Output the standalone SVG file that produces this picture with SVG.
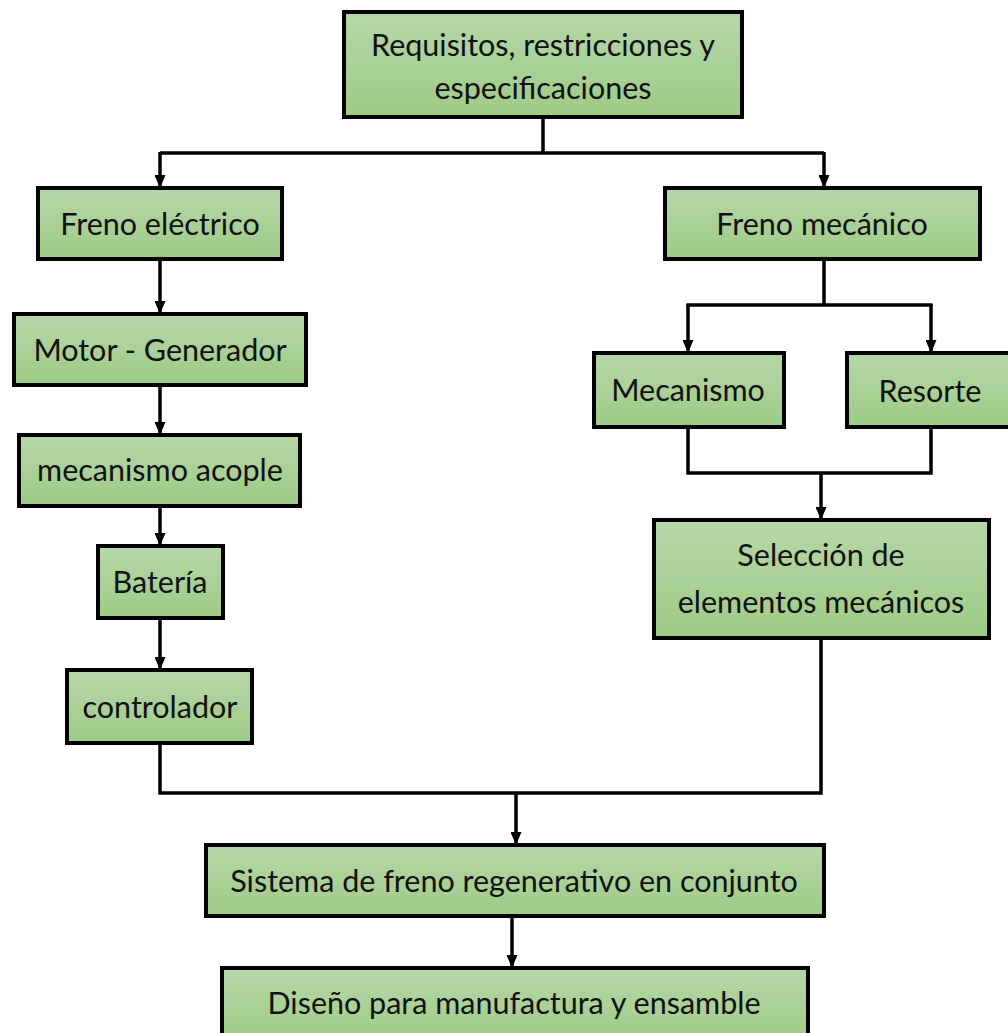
<svg xmlns="http://www.w3.org/2000/svg" width="1008" height="1033" viewBox="0 0 1008 1033">
<defs>
<linearGradient id="g" x1="0" y1="0" x2="0" y2="1">
<stop offset="0" stop-color="#b6d7a8"/>
<stop offset="1" stop-color="#9ecb86"/>
</linearGradient>
<marker id="arr" viewBox="0 0 13 11" refX="13" refY="5.5" markerWidth="13" markerHeight="11" markerUnits="userSpaceOnUse" orient="auto">
<path d="M0,0 L13,5.5 L0,11 z" fill="#000"/>
</marker>
</defs>
<style>
.box{fill:url(#g);stroke:#000;stroke-width:4}
.t{font-family:Lato,"Open Sans",sans-serif;font-size:30.5px;fill:#111;text-anchor:middle}
.c{fill:none;stroke:#000;stroke-width:3.5}
.a{marker-end:url(#arr)}
</style>
<rect width="1008" height="1033" fill="#fff"/>
<g id="connectors">
<path class="c" d="M543,117 V153 M160,153 H824"/>
<path class="c a" d="M160,152 V188"/>
<path class="c a" d="M824,152 V188"/>
<path class="c a" d="M160,259 V314"/>
<path class="c a" d="M160,385 V435"/>
<path class="c a" d="M160,506 V546"/>
<path class="c a" d="M160,618 V670"/>
<path class="c" d="M824,259 V305 M686.5,305 H932.5"/>
<path class="c a" d="M688,304 V353"/>
<path class="c a" d="M931,304 V353"/>
<path class="c" d="M688,427 V473 H931 V427"/>
<path class="c a" d="M821,473 V520"/>
<path class="c" d="M160,743 V793 H821 V638"/>
<path class="c a" d="M516,793 V845"/>
<path class="c a" d="M512,916 V968"/>
</g>
<g id="n-req"><rect class="box" x="344" y="12" width="398" height="105"/><text class="t" x="543" y="56">Requisitos, restricciones y</text><text class="t" x="543" y="99">especificaciones</text></g>
<g id="n-felec"><rect class="box" x="38" y="188" width="244" height="71"/><text class="t" x="160" y="235">Freno eléctrico</text></g>
<g id="n-fmec"><rect class="box" x="665" y="188" width="315" height="71"/><text class="t" x="822" y="235">Freno mecánico</text></g>
<g id="n-motor"><rect class="box" x="14" y="314" width="292" height="71"/><text class="t" x="160" y="361">Motor - Generador</text></g>
<g id="n-acople"><rect class="box" x="19" y="435" width="281" height="71"/><text class="t" x="160" y="481">mecanismo acople</text></g>
<g id="n-bat"><rect class="box" x="98" y="546" width="125" height="72"/><text class="t" x="160" y="593">Batería</text></g>
<g id="n-ctrl"><rect class="box" x="67" y="670" width="185" height="73"/><text class="t" x="160" y="718">controlador</text></g>
<g id="n-mecanismo"><rect class="box" x="594" y="353" width="190" height="74"/><text class="t" x="688" y="401">Mecanismo</text></g>
<g id="n-resorte"><rect class="box" x="847" y="353" width="166" height="74"/><text class="t" x="930" y="402">Resorte</text></g>
<g id="n-sel"><rect class="box" x="654" y="520" width="335" height="118"/><text class="t" x="821" y="566">Selección de</text><text class="t" x="821" y="613">elementos mecánicos</text></g>
<g id="n-sis"><rect class="box" x="206" y="845" width="618" height="71"/><text class="t" x="514" y="892">Sistema de freno regenerativo en conjunto</text></g>
<g id="n-dis"><rect class="box" x="222" y="968" width="586" height="75"/><text class="t" x="514" y="1014">Diseño para manufactura y ensamble</text></g>
</svg>
